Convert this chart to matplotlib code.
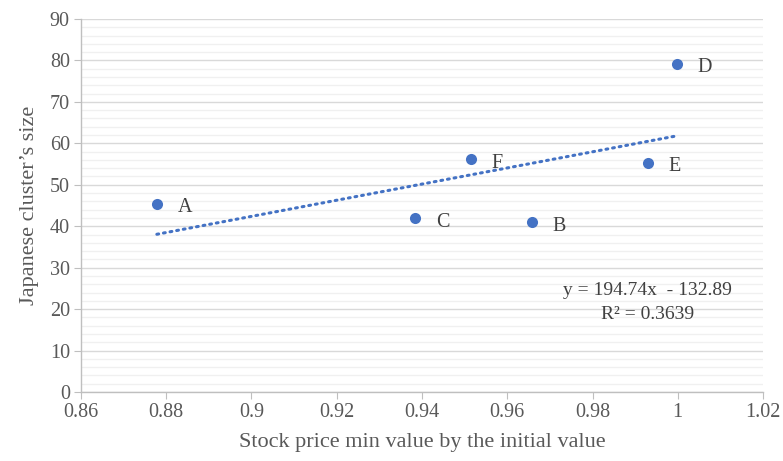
import numpy as np
import matplotlib
matplotlib.use('Agg')
from matplotlib import pyplot as plt
from matplotlib.ticker import MultipleLocator

# Data
labels = ['A', 'C', 'F', 'B', 'E', 'D']
stock_min = [0.8778, 0.9384, 0.9515, 0.9658, 0.9930, 0.9998]
cluster_size = [45.4, 42.0, 56.2, 41.0, 55.3, 79.2]

# trendline shown in the chart
slope, intercept = 194.74, -132.89
r_squared = 0.3639

blue = '#4472C4'
grey_txt = '#595959'

plt.rcParams['font.family'] = ['Liberation Serif', 'DejaVu Serif']

fig = plt.figure(figsize=(7.83, 4.61), dpi=100)
ax = fig.add_axes([0.1034, 0.1497, 0.8711, 0.8091])

ax.set_xlim(0.86, 1.02)
ax.set_ylim(0, 90)
ax.xaxis.set_major_locator(MultipleLocator(0.02))
ax.yaxis.set_major_locator(MultipleLocator(10))
ax.yaxis.set_minor_locator(MultipleLocator(2))
ax.xaxis.set_major_formatter(plt.FuncFormatter(lambda v, p: ('%g' % round(v, 2))))

ax.grid(axis='y', which='major', color='#D9D9D9', linewidth=1.0, zorder=0)
ax.grid(axis='y', which='minor', color='#F0F0F0', linewidth=1.0, zorder=0)
ax.set_axisbelow(True)

for s in ['top', 'right']:
    ax.spines[s].set_visible(False)
for s in ['left', 'bottom']:
    ax.spines[s].set_color('#BFBFBF')
    ax.spines[s].set_linewidth(1.0)

ax.tick_params(axis='both', which='major', direction='out', length=5,
               color='#BFBFBF', labelcolor=grey_txt, labelsize=14.5, pad=3)
ax.tick_params(axis='y', which='minor', length=0)

# trendline
xs = np.array([min(stock_min), max(stock_min)])
ax.plot(xs, slope * xs + intercept, color=blue, linewidth=2.2,
        linestyle=(0, (0.6, 1.6)), dash_capstyle='round', zorder=2)

ax.scatter(stock_min, cluster_size, s=64, color=blue, zorder=3, linewidths=0)

for lab, x, y in zip(labels, stock_min, cluster_size):
    ax.annotate(lab, (x, y), xytext=(15, -3), textcoords='offset points',
                va='center', ha='left', fontsize=14.5, color='#404040')

ax.text(0.9928, 21.5, 'y = 194.74x  - 132.89\nR² = %.4f' % r_squared,
        ha='center', va='center', multialignment='center',
        fontsize=14, color='#404040', linespacing=1.55)

ax.set_xlabel('Stock price min value by the initial value', fontsize=16,
              color=grey_txt, labelpad=8)
ax.set_ylabel('Japanese cluster\u2019s size', fontsize=16, color=grey_txt,
              labelpad=8)

fig.savefig('out.png', dpi=100)
plt.close(fig)
